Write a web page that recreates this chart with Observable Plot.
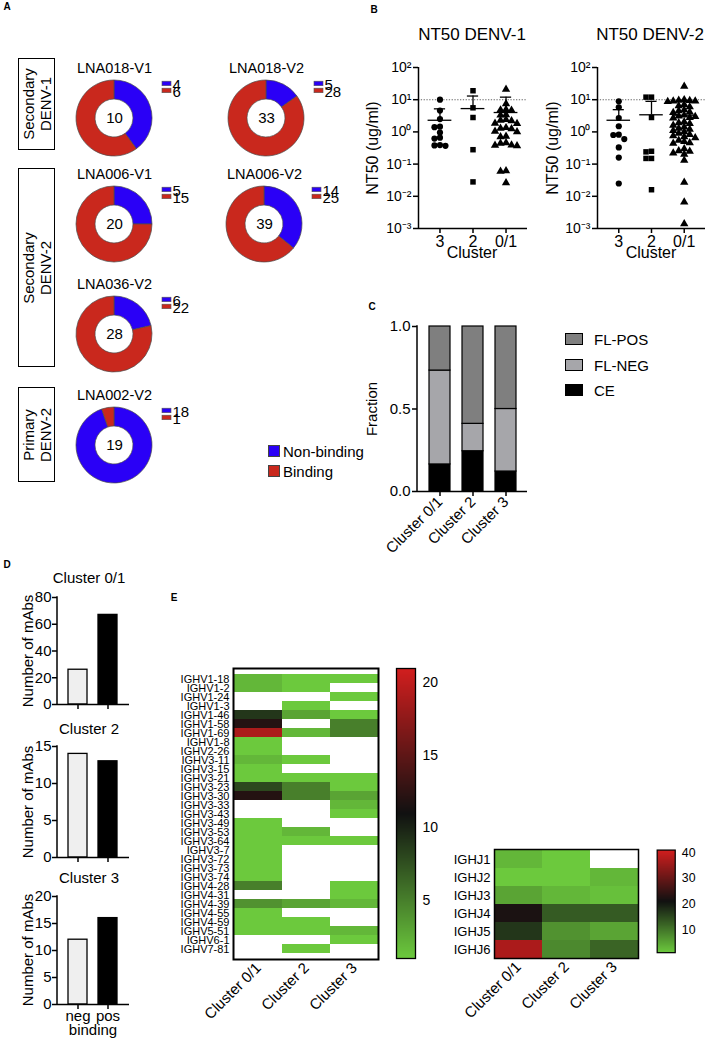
<!DOCTYPE html>
<html><head><meta charset="utf-8">
<script src="https://cdn.jsdelivr.net/npm/d3@7"></script>
<script src="https://cdn.jsdelivr.net/npm/@observablehq/plot@0.6"></script>
<style>
body{margin:0;background:#fff;}
#fig{position:relative;width:708px;height:1038px;overflow:hidden;font-family:"Liberation Sans",Arial,Helvetica,sans-serif;color:#000;background:#fff;}
#fig svg{overflow:visible;}
</style></head><body><div id="fig"></div>
<script>
// ---------------- DATA ----------------
// Panel A
const donutNames = ["LNA018-V1","LNA018-V2","LNA006-V1","LNA006-V2","LNA036-V2","LNA002-V2"];
const nonBinding = [4, 5, 5, 14, 6, 18];
const binding    = [6, 28, 15, 25, 22, 1];
const bindGroups = ["Non-binding", "Binding"];
// Panel B
const clusters = ["3", "2", "0/1"];
const d1C3  = [10, 4.6, 2.5, 1.45, 1.4, 0.95, 0.66, 0.62, 0.39, 0.38, 0.37];
const d1C2  = [19, 5.6, 2.8, 0.28, 0.028];
const d1C01 = [21, 7.5, 4.9, 4.8, 4.7, 3.4, 3.3, 2.4, 2.3, 2.2, 1.85, 1.8, 1.35, 1.3, 1.25, 1.05, 1.0, 0.73, 0.7, 0.46, 0.44, 0.39, 0.38, 0.37, 0.062, 0.06, 0.026];
const d1Mean  = [2.3, 5.3, 4.0];
const d1Upper = [5.2, 13, 12];
const d2C3  = [8.9, 5.8, 2.7, 1.5, 0.82, 0.8, 0.6, 0.33, 0.16, 0.025];
const d2C2  = [12, 12, 2.8, 0.25, 0.24, 0.15, 0.15, 0.016];
const d2C01 = [26, 10, 9.6, 9.4, 9.1, 9, 8.8, 7, 6.5, 6, 4.8, 4.5, 4.1, 4, 3.3, 3.1, 3, 2.8, 2.7, 2.05, 1.9, 1.8, 1.6, 1.4, 1.3, 1.2, 1.1, 1.0, 0.9, 0.82, 0.76, 0.7, 0.65, 0.55, 0.5, 0.46, 0.44, 0.3, 0.26, 0.25, 0.22, 0.2, 0.13, 0.027, 0.0066, 0.0014];
const d2Mean  = [2.3, 3.4, 3.3];
const d2Upper = [4.9, 8.9, 9.3];
const decades = [1e-3, 1e-2, 1e-1, 1, 10, 100];
// Panel C
const cClusters = ["Cluster 0/1", "Cluster 2", "Cluster 3"];
const epitopes = ["FL-POS", "FL-NEG", "CE"];
const fracCE    = [0.164, 0.244, 0.121];
const fracFLNEG = [0.569, 0.166, 0.379];
const fracFLPOS = [0.267, 0.590, 0.500];
// Panel D
const bindCats = ["neg", "pos"];
const dTitles = ["Cluster 0/1", "Cluster 2", "Cluster 3"];
const dNeg = [26, 14, 12];
const dPos = [67, 13, 16];
const dMax = [80, 15, 20];
const dTicks = [[0,20,40,60,80],[0,5,10,15],[0,5,10,15,20]];
// Panel E
const hmClusters = ["Cluster 0/1", "Cluster 2", "Cluster 3"];
const vGenes = ["IGHV1-18","IGHV1-2","IGHV1-24","IGHV1-3","IGHV1-46","IGHV1-58","IGHV1-69","IGHV1-8","IGHV2-26","IGHV3-11","IGHV3-15","IGHV3-21","IGHV3-23","IGHV3-30","IGHV3-33","IGHV3-43","IGHV3-49","IGHV3-53","IGHV3-64","IGHV3-7","IGHV3-72","IGHV3-73","IGHV3-74","IGHV4-28","IGHV4-31","IGHV4-39","IGHV4-55","IGHV4-59","IGHV5-51","IGHV6-1","IGHV7-81"];
const vC01 = [2,2,null,null,9,12,19,1,1,2,1,1,8,12,null,null,1,1,1,1,1,1,1,5,null,4,1,1,1,null,null];
const vC2  = [1,1,null,1,3,null,2,null,null,1,null,1,5,5,null,null,null,2,1,null,null,null,null,null,null,3,null,1,1,null,1];
const vC3  = [1,null,1,null,1,5,5,null,null,null,null,1,1,3,2,1,null,null,1,null,null,null,null,1,1,2,null,null,2,1,null];
const vTicks = [5, 10, 15, 20];
const jGenes = ["IGHJ1","IGHJ2","IGHJ3","IGHJ4","IGHJ5","IGHJ6"];
const jC01 = [3, 1, 5, 22, 17, 37];
const jC2  = [1, 1, 3, 13, 7, 8];
const jC3  = [null, 3, 2, 13, 5, 12];
const jTicks = [10, 20, 30, 40];

// ---------------- HELPERS ----------------
const FONT = "Liberation Sans, Arial, Helvetica, sans-serif";
const base = {fontFamily: FONT, fontSize: "15px", background: "transparent", overflow: "visible", color: "#000"};
const fig = document.getElementById("fig");
function put(node, left, top) {
  const d = document.createElement("div");
  d.style.cssText = `position:absolute;left:${left}px;top:${top}px;line-height:0;`;
  d.appendChild(node); fig.appendChild(d); return d;
}
function label(s, x, y, o = {}) {
  const d = document.createElement("div");
  const size = o.size || 15;
  const tx = o.anchor === "start" ? "0" : "-50%";
  d.style.cssText = `position:absolute;left:${x}px;top:${y}px;white-space:nowrap;font-size:${size}px;line-height:${o.lh || Math.round(size*1.15)}px;font-weight:${o.bold ? "bold" : "normal"};text-align:center;transform:translate(${tx},-50%) rotate(${o.rot || 0}deg);`;
  d.innerHTML = s;
  fig.appendChild(d);
}
function rectDiv(x, y, w, h, css) {
  const d = document.createElement("div");
  d.style.cssText = `position:absolute;left:${x}px;top:${y}px;width:${w}px;height:${h}px;box-sizing:border-box;${css}`;
  fig.appendChild(d);
}
function leftLine(sw = 1.5) {
  return (index, scales, values, dims) => {
    const l = document.createElementNS("http://www.w3.org/2000/svg", "line");
    l.setAttribute("x1", dims.marginLeft); l.setAttribute("x2", dims.marginLeft);
    l.setAttribute("y1", dims.marginTop - 0.75); l.setAttribute("y2", dims.height - dims.marginBottom + 0.75);
    l.setAttribute("stroke", "#000"); l.setAttribute("stroke-width", sw);
    return l;
  };
}

// ---------------- PANEL A ----------------
const blue = "#2a00f6", red = "#c9281d";
const donutCenters = [[114,118],[266,118],[114,224],[264,224],[114,334],[114,445]];
donutNames.forEach((name, i) => {
  const slices = [{group: "Non-binding", count: nonBinding[i]}, {group: "Binding", count: binding[i]}];
  const total = d3.sum(slices, d => d.count);
  const CX = 45, CY = 60;
  const donut = (index, scales) => {
    const g = d3.create("svg:g").attr("transform", `translate(${CX},${CY})`);
    const pie = d3.pie().sort(null).value(d => d.count);
    const arc = d3.arc().innerRadius(19).outerRadius(38);
    g.selectAll("path").data(pie(slices)).join("path")
      .attr("d", arc).attr("fill", d => scales.color(d.data.group))
      .attr("stroke", "#4a4a4a").attr("stroke-width", 0.7);
    return g.node();
  };
  const p = Plot.plot({
    width: 135, height: 110, margin: 0, style: base,
    x: {type: "band", domain: ["s"], range: [93, 102], padding: 0, axis: null},
    y: {type: "band", domain: bindGroups, range: [21.75, 36.75], padding: 0, axis: null},
    color: {domain: bindGroups, range: [blue, red]},
    marks: [
      donut,
      Plot.cell(slices, {x: () => "s", y: "group", fill: "group", stroke: "#555", strokeWidth: 0.6, insetTop: 1.2, insetBottom: 1.3}),
      Plot.text(slices, {x: () => "s", y: "group", text: d => String(d.count), textAnchor: "start", dx: 5.5, dy: 1, fontSize: 15}),
      Plot.text([total], {frameAnchor: "top-left", textAnchor: "middle", lineAnchor: "middle", dx: CX, dy: CY, text: d => String(d), fontSize: 15}),
      Plot.text([name], {frameAnchor: "top-left", textAnchor: "middle", lineAnchor: "middle", dx: CX, dy: CY - 50, text: d => d, fontSize: 14.5})
    ]
  });
  put(p, donutCenters[i][0] - CX, donutCenters[i][1] - CY);
});
// group boxes
function groupBox(x, y, w, h, txt) {
  rectDiv(x, y, w, h, "border:1.3px solid #000;");
  label(txt, x + w/2, y + h/2, {rot: -90, size: 15, lh: 17});
}
groupBox(18, 58, 37, 92, "Secondary<br>DENV-1");
groupBox(18, 168, 37, 199, "Secondary<br>DENV-2");
groupBox(18, 387, 37, 95, "Primary<br>DENV-2");
// legend
rectDiv(268, 445, 12, 12, `background:${blue};border:0.6px solid #444;`);
rectDiv(268, 465, 12, 12, `background:${red};border:0.6px solid #444;`);
label("Non-binding", 283, 451, {anchor: "start", size: 15});
label("Binding", 283, 471, {anchor: "start", size: 15});

// ---------------- PANEL B ----------------
const supMap = {"-": "\u207B", "0": "\u2070", "1": "\u00B9", "2": "\u00B2", "3": "\u00B3"};
const supFmt = d => "10" + String(Math.round(Math.log10(d))).split("").map(c => supMap[c]).join("");
function swarm(vals, pxPerDecade, minDist, step) {
  const order = d3.range(vals.length).sort((a, b) => vals[b] - vals[a]);
  const placed = [], off = new Array(vals.length).fill(0);
  for (const i of order) {
    const y = Math.log10(vals[i]) * pxPerDecade;
    for (let k = 0; k < 60; k++) {
      const o = k === 0 ? 0 : (k % 2 ? -1 : 1) * Math.ceil(k / 2) * step;
      if (placed.every(p => Math.hypot(p.x - o, p.y - y) >= minDist)) { placed.push({x: o, y}); off[i] = o; break; }
    }
  }
  return off;
}
function ntPlot(values, means, uppers, width, ml, mr) {
  const X0 = -0.65, X1 = 2.65;
  const innerW = width - ml - mr;
  const pxPerUnit = innerW / (X1 - X0);
  const pxPerDecade = (213 - 17 - 35) / 5;
  const rows = [];
  values.forEach((vals, ci) => {
    const offs = swarm(vals, pxPerDecade, 4.6, 5.5);
    vals.forEach((v, j) => rows.push({cluster: clusters[ci], v, xo: ci + offs[j] / pxPerUnit}));
  });
  const stats = clusters.map((c, ci) => ({ci, mean: means[ci], upper: uppers[ci]}));
  return Plot.plot({
    width, height: 213, marginLeft: ml, marginRight: mr, marginTop: 17, marginBottom: 35,
    style: base,
    x: {domain: [X0, X1]},
    y: {type: "log", domain: [1e-3, 1e2]},
    symbol: {domain: clusters, range: ["circle", "square", "triangle"]},
    marks: [
      Plot.ruleY([10], {stroke: "#666", strokeDasharray: "1.3,1.5", strokeWidth: 1.1}),
      Plot.dot(rows, {x: "xo", y: "v", symbol: "cluster", fill: "#000", r: 3.1}),
      Plot.ruleY(stats, {y: "mean", x1: d => d.ci - 0.36, x2: d => d.ci + 0.36, strokeWidth: 1.3}),
      Plot.ruleX(stats, {x: "ci", y1: "mean", y2: "upper", strokeWidth: 1.3}),
      Plot.ruleY(stats, {y: "upper", x1: d => d.ci - 0.17, x2: d => d.ci + 0.17, strokeWidth: 1.3}),
      Plot.ruleX([X0], {strokeWidth: 1.5}),
      Plot.ruleY([1e-3], {strokeWidth: 1.5}),
      Plot.axisY({ticks: decades, tickFormat: supFmt, tickSize: 5, tickPadding: 2, strokeWidth: 1.5, fontSize: 14, label: null}),
      Plot.axisX({ticks: [0, 1, 2], tickFormat: i => clusters[i], tickSize: 5, tickPadding: 2, strokeWidth: 1.5, fontSize: 16, label: null})
    ]
  });
}
put(ntPlot([d1C3, d1C2, d1C01], d1Mean, d1Upper, 175, 58, 8), 360, 50);
put(ntPlot([d2C3, d2C2, d2C01], d2Mean, d2Upper, 168, 57, 3), 540, 50);
label("NT50 DENV-1", 472, 35, {size: 17});
label("NT50 DENV-2", 650, 35, {size: 17});
label("NT50 (ug/ml)", 373, 148, {rot: -90, size: 16});
label("NT50 (ug/ml)", 553, 148, {rot: -90, size: 16});
label("Cluster", 472, 253, {size: 16});
label("Cluster", 651, 253, {size: 16});

// ---------------- PANEL C ----------------
const cRows = [];
cClusters.forEach((c, i) => {
  cRows.push({cluster: c, type: "CE", f: fracCE[i]});
  cRows.push({cluster: c, type: "FL-NEG", f: fracFLNEG[i]});
  cRows.push({cluster: c, type: "FL-POS", f: fracFLPOS[i]});
});
const cColors = ["#7f7f7f", "#a6a6aa", "#000000"];
const pC = Plot.plot({
  width: 175, height: 255, marginLeft: 57, marginRight: 8, marginTop: 16, marginBottom: 74,
  style: base,
  x: {type: "band", domain: cClusters, paddingInner: 0.37, paddingOuter: 0.33},
  y: {domain: [0, 1]},
  color: {domain: epitopes, range: cColors},
  marks: [
    Plot.barY(cRows, {x: "cluster", y: "f", fill: "type", stroke: "#000", strokeWidth: 1.2}),
    Plot.ruleY([0], {strokeWidth: 1.5}),
    leftLine(1.5),
    Plot.axisY({ticks: [0, 0.5, 1], tickFormat: d3.format(".1f"), tickSize: 5, tickPadding: 2, strokeWidth: 1.5, fontSize: 15, label: null}),
    Plot.axisX({tickSize: 5, tickPadding: 3, tickRotate: -45, strokeWidth: 1.5, fontSize: 15, label: null})
  ]
});
put(pC, 360, 310);
label("Fraction", 371, 409, {rot: -90, size: 15});
epitopes.forEach((e, i) => {
  rectDiv(565, 333 + i * 25.5, 18, 12, `background:${cColors[i]};border:1.2px solid #000;`);
  label(e, 594, 339 + i * 25.5, {anchor: "start", size: 15});
});

// ---------------- PANEL D ----------------
const dTops = [580, 729, 879];
const dBottoms = [704, 857, 1004];
dTitles.forEach((t, i) => {
  const rows = [{cat: "neg", n: dNeg[i]}, {cat: "pos", n: dPos[i]}];
  const top = dTops[i];
  const mb = i === 2 ? 24 : 11;
  const h = (dBottoms[i] - top) + mb;
  const p = Plot.plot({
    width: 135, height: h, marginLeft: 57, marginRight: 6, marginTop: 17, marginBottom: mb,
    style: base,
    x: {type: "band", domain: bindCats, paddingInner: 0.355, paddingOuter: 0.34},
    y: {domain: [0, dMax[i]]},
    color: {domain: bindCats, range: ["#efefef", "#000000"]},
    marks: [
      Plot.barY(rows, {x: "cat", y: "n", fill: "cat", stroke: "#000", strokeWidth: 1.3}),
      Plot.ruleY([0], {strokeWidth: 1.5}),
      leftLine(1.5),
      Plot.axisY({ticks: dTicks[i], tickSize: 5, tickPadding: 1, strokeWidth: 1.5, fontSize: 15, label: null}),
      Plot.axisX({tickSize: 5, tickPadding: 1, strokeWidth: 1.5, fontSize: 15, label: null, tickFormat: i === 2 ? (d => d) : (() => "")})
    ]
  });
  put(p, 0, top);
  label(t, 89, [577, 728, 877][i], {size: 15});
  label("Number of mAbs", 27, (top + 17 + dBottoms[i]) / 2, {rot: -90, size: 15});
});
label("binding", 93, 1029, {size: 15});

// ---------------- PANEL E ----------------
const vColor = {type: "linear", domain: [1, 11, 21], range: ["#6cc93d", "#111111", "#d21e1e"], interpolate: "rgb"};
const jColor = {type: "linear", domain: [1, 21, 41], range: ["#6cc93d", "#111111", "#d21e1e"], interpolate: "rgb"};
function cellsOf(genes, cols) {
  const out = [];
  genes.forEach((g, i) => cols.forEach((col, ci) => { if (col[i] != null) out.push({gene: g, cluster: hmClusters[ci], n: col[i]}); }));
  return out;
}
function heatmap(genes, cols, color, o) {
  return Plot.plot({
    width: o.width, height: o.height, marginLeft: o.ml, marginRight: o.mr, marginTop: 8, marginBottom: o.mb,
    style: base,
    x: {type: "band", domain: hmClusters, padding: 0},
    y: {type: "band", domain: genes, padding: 0},
    color,
    marks: [
      Plot.cell(cellsOf(genes, cols), {x: "cluster", y: "gene", fill: "n", inset: 0}),
      Plot.frame({stroke: "#000", strokeWidth: o.fw}),
      Plot.axisY({tickSize: 0, tickPadding: 4, fontSize: o.fs, label: null}),
      Plot.axisX({tickSize: 0, tickPadding: 6, tickRotate: -45, fontSize: 15, label: null})
    ]
  });
}
function colorbar(color, ticks, innerH, fs) {
  const [lo, , hi] = color.domain;
  const mark = typeof Plot.raster === "function"
    ? Plot.raster({fill: (x, y) => y, x1: 0, x2: 1, y1: lo, y2: hi, pixelSize: 1})
    : Plot.rect(d3.range(200), {x1: 0, x2: 1, y1: i => lo + (hi - lo) * i / 200, y2: i => lo + (hi - lo) * (i + 1.05) / 200, fill: i => lo + (hi - lo) * (i + 0.5) / 200});
  return Plot.plot({
    width: 60, height: 8 + innerH + 12, marginLeft: 6, marginRight: 60 - 6 - 19, marginTop: 8, marginBottom: 12,
    style: base,
    x: {domain: [0, 1], axis: null},
    y: {domain: [lo, hi]},
    color,
    marks: [
      mark,
      Plot.frame({stroke: "#000", strokeWidth: 1.3}),
      Plot.axisY({anchor: "right", ticks, tickSize: 0, tickPadding: 7, fontSize: fs, label: null})
    ]
  });
}
put(heatmap(vGenes, [vC01, vC2, vC3], vColor, {width: 240, height: 374, ml: 83, mr: 12, mb: 75, fs: 11, fw: 2}), 150, 660);
put(colorbar(vColor, vTicks, 290, 14), 390, 660);
put(heatmap(jGenes, [jC01, jC2, jC3], jColor, {width: 230, height: 187, ml: 74, mr: 12, mb: 70, fs: 13, fw: 1.5}), 420, 841);
put(colorbar(jColor, jTicks, 108, 13), 651, 842);

// ---------------- PANEL LETTERS ----------------
label("A", 7, 7, {size: 10, bold: true});
label("B", 374, 10, {size: 10, bold: true});
label("C", 372, 307, {size: 10, bold: true});
label("D", 7, 565, {size: 10, bold: true});
label("E", 174, 598, {size: 10, bold: true});
</script></body></html>
